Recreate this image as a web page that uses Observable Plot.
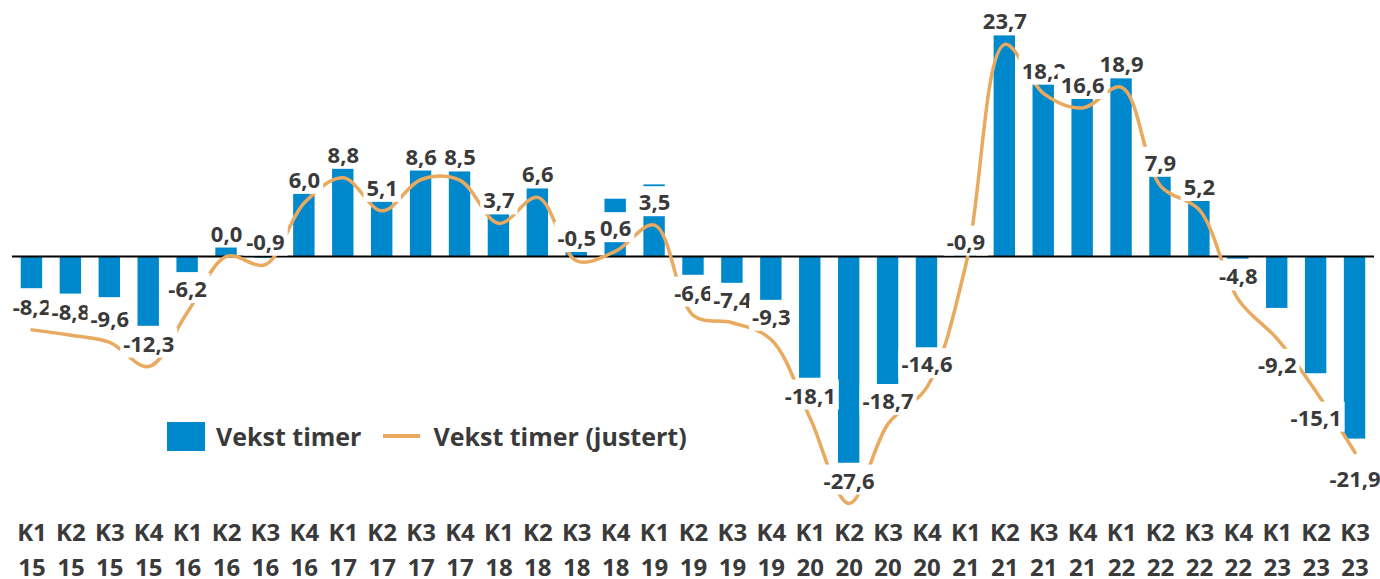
<!DOCTYPE html>
<html>
<head>
<meta charset="utf-8">
<script src="https://cdn.jsdelivr.net/npm/d3@7"></script>
<script src="https://cdn.jsdelivr.net/npm/@observablehq/plot@0.6"></script>
<style>
  body { margin: 0; background: #fff; font-family: "Open Sans", sans-serif; }
  #wrap { position: relative; width: 1380px; height: 579px; overflow: hidden; }
  #legend { position: absolute; left: 167px; top: 419px; display: flex; align-items: center;
            font-weight: 700; font-size: 25px; color: #3a3a3a; white-space: nowrap; }
  #legend .sw { display: inline-block; width: 38px; height: 29px; background: #0088CC; margin-right: 11px; }
  #legend .ln { display: inline-block; width: 37px; height: 4px; background: #E9A95E; margin: 0 13px 0 22px; }
</style>
</head>
<body>
<div id="wrap">
  <div id="chart"></div>
  <div id="legend"><span class="sw"></span><span>Vekst timer</span><span class="ln"></span><span>Vekst timer (justert)</span></div>
</div>
<script>
// Tick labels
const quarters = ["K1","K2","K3","K4","K1","K2","K3","K4","K1","K2","K3","K4","K1","K2","K3","K4","K1","K2","K3","K4","K1","K2","K3","K4","K1","K2","K3","K4","K1","K2","K3","K4","K1","K2","K3"];
const years    = ["15","15","15","15","16","16","16","16","17","17","17","17","18","18","18","18","19","19","19","19","20","20","20","20","21","21","21","21","22","22","22","22","23","23","23"];
// Bars: Vekst timer
const vekst = [-3.6,-4.2,-4.6,-7.8,-1.8,1.0,-0.2,7.0,9.8,6.3,9.7,9.6,4.7,7.6,0.6,6.4,8.0,-2.1,-3.0,-4.9,-13.6,-23.1,-14.3,-10.2,0.2,25.0,19.2,17.7,20.0,9.2,6.3,-0.3,-5.8,-13.1,-20.4];
// Line: Vekst timer (justert) — labelled values
const justert = [-8.2,-8.8,-9.6,-12.3,-6.2,0.0,-0.9,6.0,8.8,5.1,8.6,8.5,3.7,6.6,-0.5,0.6,3.5,-6.6,-7.4,-9.3,-18.1,-27.6,-18.7,-14.6,-0.9,23.7,18.2,16.6,18.9,7.9,5.2,-4.8,-9.2,-15.1,-21.9];

const rows = quarters.map((q, i) => ({
  key: q + " " + years[i], q, yr: years[i], bar: vekst[i], line: justert[i], i
}));
const keys = rows.map(d => d.key);
const fmt = d => d.line.toFixed(1).replace(".", ",");
const below = d => d.i >= 32;
const txt = "#3a3a3a";
const font = "Open Sans";

const chart = Plot.plot({
  width: 1380,
  height: 579,
  marginTop: 0,
  marginBottom: 72.4,
  marginLeft: 12,
  marginRight: 6,
  style: { fontFamily: font, fontWeight: 700, color: txt, background: "#fff" },
  x: { type: "band", domain: keys, paddingInner: 0.45, paddingOuter: 0.225, axis: null, label: null },
  y: { domain: [-28, 28.6], axis: null, label: null },
  marks: [
    Plot.barY(rows, { x: "key", y: "bar", fill: "#0088CC" }),
    Plot.ruleY([0], { stroke: "#000", strokeWidth: 2 }),
    Plot.line(rows, { x: "key", y: "line", stroke: "#E9A95E", strokeWidth: 3.5, curve: "catmull-rom" }),
    Plot.text(rows.filter(d => !below(d)), { x: "key", y: "line", text: fmt, dy: -22, fontSize: 22, fontWeight: 700, fill: txt, ariaDescription: "datalabel" }),
    Plot.text(rows.filter(below), { x: "key", y: "line", text: fmt, dy: 27, fontSize: 22, fontWeight: 700, fill: txt, ariaDescription: "datalabel" }),
    Plot.axisX({ domain: keys, label: null, tickSize: 0, tickPadding: 16.7, tickFormat: k => rows[keys.indexOf(k)].q, fontSize: 24, fontWeight: 700, fill: txt }),
    Plot.axisX({ domain: keys, label: null, tickSize: 0, tickPadding: 51.7, tickFormat: k => rows[keys.indexOf(k)].yr, fontSize: 24, fontWeight: 700, fill: txt })
  ]
});
document.getElementById("chart").appendChild(chart);

// white boxes behind data labels
chart.querySelectorAll('g[aria-label="text"] text').forEach(t => {
  const b = t.getBBox();
  const r = document.createElementNS("http://www.w3.org/2000/svg", "rect");
  r.setAttribute("x", b.x - 3);
  r.setAttribute("y", b.y);
  r.setAttribute("width", b.width + 6);
  r.setAttribute("height", b.height);
  r.setAttribute("fill", "#fff");
  const tr = t.getAttribute("transform");
  if (tr) r.setAttribute("transform", tr);
  t.parentNode.insertBefore(r, t);
});
</script>
</body>
</html>
